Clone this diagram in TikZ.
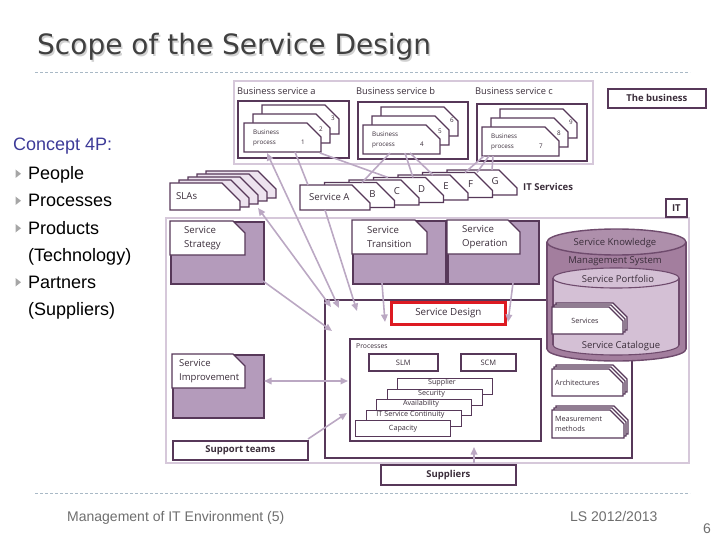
\documentclass[tikz,border=0pt]{standalone}
\usepackage{fontspec}
\setmainfont{Liberation Sans}
\newfontfamily\dfont{Open Sans}
\newfontfamily\tfont{DejaVu Sans}
\usetikzlibrary{arrows.meta}
\definecolor{dp}{HTML}{573859}
\definecolor{mp}{HTML}{B49BBB}
\definecolor{lp}{HTML}{D6C8DA}
\definecolor{ac}{HTML}{BBA8C3}
\definecolor{cyb}{HTML}{A37E9E}
\definecolor{cyt}{HTML}{AE8FAB}
\definecolor{cyi}{HTML}{D4C0D5}
\definecolor{cyl}{HTML}{6F4B6D}
\definecolor{tx}{HTML}{3A2D3A}
\definecolor{sdred}{HTML}{DD1A22}
\definecolor{dsh}{HTML}{A9B9C6}
\definecolor{blu}{HTML}{3D3A98}
\definecolor{ftr}{HTML}{6E6E6E}
\definecolor{titc}{HTML}{404040}
\definecolor{slab}{HTML}{EDE3EF}
\newcommand\fs[2]{\fontsize{#1}{#2}\selectfont}
% card with cut top-right corner: [opts]{name}{x}{y}{w}{h}{cut}
\newcommand\crd[7][]{%
  \draw[crdst,#1] (#3,#4) -- ++({#5-#7},0) -- ++(#7,#7) -- ++(0,{#6-#7}) -- ++({-#5},0) -- cycle;
  \path (#3,#4) coordinate (#2);}
% box node: {name}{style}{x1}{y1}{x2}{y2}{text}
\newcommand\bx[7]{\node[#2, anchor=north west, inner sep=0, minimum width={#5-#3}, minimum height={#6-#4}] (#1) at (#3,#4) {#7};}
\begin{document}
\begin{tikzpicture}[x=1pt,y=-1pt,
  boxst/.style={draw=dp, line width=1.7pt},
  crdst/.style={draw=dp, line width=1.3pt, fill=white, line join=miter},
  lbox/.style={draw=lp, line width=1.8pt},
  arr/.style={draw=ac, line width=1.6pt, -{Triangle[length=7.5pt,width=6.5pt]}},
  darr/.style={draw=ac, line width=1.6pt, {Triangle[length=7.5pt,width=6.5pt]}-{Triangle[length=7.5pt,width=6.5pt]}},
  ln/.style={draw=ac, line width=1.6pt},
  lbl/.style={font=\dfont\fs{9.6}{13.3}, text=tx, inner sep=0},
  bld/.style={font=\dfont\bfseries\fs{9.5}{11}, text=tx},
  sml/.style={font=\dfont\fs{7.2}{10}, text=tx, inner sep=0},
  tiny/.style={font=\dfont\fs{6.3}{10}, text=tx, inner sep=0},
  dline/.style={draw=dsh, line width=0.8pt, dash pattern=on 3pt off 2pt},
  bul/.style={fill=black!35, draw=none},
  lt/.style={font=\fs{18}{20}, text=black, inner sep=0, anchor=base west},
  ft/.style={font=\fs{14}{16}, text=ftr, inner sep=0, anchor=base west}]
\useasboundingbox (0,0) rectangle (720,540);

% ---------- title ----------
\node[anchor=base west, inner sep=0, font=\tfont\fs{28}{30}, text=black!18] (titsh) at (38.5,56.5) {Scope of the Service Design};
\node[anchor=base west, inner sep=0, font=\tfont\fs{28}{30}, text=titc] (tit) at (37,55) {Scope of the Service Design};
\coordinate (d1a) at (35,72); \coordinate (d1b) at (690,72);
\draw[dline] (d1a) -- (d1b);
\coordinate (d2a) at (35,493); \coordinate (d2b) at (690,493);
\draw[dline] (d2a) -- (d2b);

% ---------- left text ----------
\node[lt, text=blu] (c4p) at (13,151) {Concept 4P:};
\node[lt] (i1) at (28,179.5) {People};
\node[lt] (i2) at (28,206.5) {Processes};
\node[lt] (i3) at (28,234) {Products};
\node[lt] (i3b) at (28,261) {(Technology)};
\node[lt] (i4) at (28,288) {Partners};
\node[lt] (i4b) at (28,315) {(Suppliers)};
\foreach \b in {179.5,206.5,234,288} {\fill[bul] (15.5,\b-10) -- (15.5,\b-1.5) -- (21,\b-5.75) -- cycle;}

% ---------- footer ----------
\node[ft] (f1) at (67,521) {Management of IT Environment (5)};
\node[ft] (f2) at (570,521) {LS 2012/2013};
\node[ft] (f3) at (703,533) {6};

% ---------- the business ----------
\bx{busr}{lbox}{233}{80}{592}{163}{}
\bx{bsa}{boxst}{237}{100}{348}{157}{}
\bx{bsb}{boxst}{357}{101}{467}{158}{}
\bx{bsc}{boxst}{476}{103}{586}{160}{}
\node[lbl, font=\dfont\fs{9.3}{11}, anchor=base west] (bsat) at (237,95) {Business service a};
\node[lbl, font=\dfont\fs{9.3}{11}, anchor=base west] (bsbt) at (356,95) {Business service b};
\node[lbl, font=\dfont\fs{9.3}{11}, anchor=base west] (bsct) at (475,95) {Business service c};
\bx{thebus}{boxst,bld}{607}{88}{705}{107}{The business}

\foreach \p/\x/\y/\na/\nb/\nc in {a/244/123/1/2/3, b/363/125/4/5/6, c/482/127/7/8/9} {
  \crd{bp\p3}{\x+18}{\y-18}{77}{29}{14}
  \crd{bp\p2}{\x+9}{\y-9}{77}{29}{14}
  \crd{bp\p1}{\x}{\y}{77}{29}{14}
  \node[tiny, align=left, anchor=west] (bpt\p) at (\x+9,\y+15) {Business\\process};
  \node[tiny] (bpn\p1) at (\x+59,\y+19) {\na};
  \node[tiny] (bpn\p2) at (\x+77,\y+6) {\nb};
  \node[tiny] (bpn\p3) at (\x+89,\y-5) {\nc};
}

% ---------- IT region ----------
\bx{itr}{lbox}{165}{217}{688}{462}{}
\bx{itb}{boxst,bld}{665}{198}{686}{216}{IT}

% SLAs
\foreach \k in {4,3,2,1} {\crd[fill=slab]{sla\k}{170+9*\k}{183-3*\k}{70}{27}{18}}
\crd{sla0}{170}{183}{70}{27}{18}
\node[lbl, anchor=west] (slat) at (176,196.5) {SLAs};

% IT services
\foreach \i/\l in {6/G,5/F,4/E,3/D,2/C,1/B} {
  \crd{its\i}{300+24.5*\i}{185-2.5*\i}{70}{25}{18}
  \node[lbl] (itl\i) at (300+24.5*\i+48,185-2.5*\i+11.5) {\l};
}
\crd{its0}{300}{185}{70}{25}{18}
\node[lbl, anchor=west] (itsat) at (309,197.5) {Service A};
\node[bld, anchor=west, inner sep=0] (itsl) at (523,187) {IT Services};

% lifecycle boxes
\bx{sstr}{boxst,fill=mp}{170}{221}{263}{283}{}
\crd{sstrc}{170}{221}{75}{34}{12}
\node[lbl, align=left, anchor=west] (sstrt) at (184,238) {Service\\Strategy};
\bx{strn}{boxst,fill=mp}{352}{220}{445}{283}{}
\crd{strnc}{352}{220}{75}{34}{12}
\node[lbl, align=left, anchor=west] (strnt) at (367,237) {Service\\Transition};
\bx{sop}{boxst,fill=mp}{447}{220}{538}{283}{}
\crd{sopc}{447}{220}{73}{34}{12}
\node[lbl, align=left, anchor=west] (sopt) at (462,237) {Service\\Operation};
\bx{simp}{boxst,fill=mp}{172}{354}{263}{417}{}
\crd{simpc}{172}{354}{73}{34}{12}
\node[lbl, align=left, anchor=west, font=\dfont\fs{9.5}{13.5}] (simpt) at (179,371) {Service\\Improvement};

% service design
\bx{sd}{boxst}{324}{299}{631}{457}{}
\bx{sdr}{draw=sdred, line width=2.7pt, lbl, font=\dfont\fs{9.8}{11}}{390}{301}{504}{323}{Service Design}
\bx{proc}{boxst}{349}{338}{540}{440}{}
\node[sml, font=\dfont\fs{6.8}{8}, anchor=west] (proct) at (356,346) {Processes};
\bx{slm}{boxst, sml, font=\dfont\fs{7.5}{9}}{368}{353}{437}{370}{SLM}
\bx{scm}{boxst, sml, font=\dfont\fs{7.5}{9}}{460}{353}{515}{370}{SCM}
\foreach \n/\x/\y/\t in {p1/397/378/Supplier, p2/386.5/388.5/Security, p3/376/399/Availability, p4/365.5/409.5/IT Service Continuity} {
  \bx{\n}{draw=dp, line width=1.3pt, fill=white}{\x}{\y}{\x+95}{\y+16}{}
  \node[sml] (\n t) at (\x+45,\y+5) {\t};
}
\bx{p5}{draw=dp, line width=1.3pt, fill=white, sml}{355}{420}{450}{436}{Capacity}

\bx{supt}{boxst,bld}{172}{440}{307}{459}{Support teams}
\bx{supp}{boxst,bld}{380}{464}{515}{484}{Suppliers}

% cylinder (SKMS)
\fill[cyb, draw=cyl, line width=1.4pt] (616.5,349) ellipse [x radius=69.5, y radius=12];
\fill[cyb] (547,242) rectangle (686,349);
\draw[cyl, line width=1.4pt] (547,242) -- (547,349) (686,242) -- (686,349);
\draw[fill=cyt, draw=cyl, line width=1.4pt] (616.5,242) ellipse [x radius=69.5, y radius=13];
\fill[cyi, draw=cyl, line width=1.1pt] (616,345) ellipse [x radius=63, y radius=10];
\fill[cyi] (553,278) rectangle (679,345);
\draw[cyl, line width=1.1pt] (553,278) -- (553,345) (679,278) -- (679,345);
\draw[fill=cyi, draw=cyl, line width=1.1pt] (616,278) ellipse [x radius=63, y radius=10];
\node[lbl, font=\dfont\fs{9.5}{11}] (skms1) at (615,243) {Service Knowledge};
\node[lbl, font=\dfont\fs{9.5}{11}] (skms2) at (615,261) {Management System};
\node[lbl, font=\dfont\fs{9.5}{11}] (sport) at (618,279) {Service Portfolio};
\node[lbl, font=\dfont\fs{9.5}{11}] (scat) at (621,346) {Service Catalogue};

\foreach \k in {2,1} {\crd{svc\k}{552+2*\k}{307-2*\k}{71}{27}{14}}
\crd{svc0}{552}{307}{71}{27}{14}
\node[sml] (svct) at (585,321) {Services};
\foreach \k in {2,1} {\crd{arc\k}{552+2*\k}{369-2*\k}{71}{27}{14}}
\crd{arc0}{552}{369}{71}{27}{14}
\node[sml, anchor=west] (arct) at (555,383) {Architectures};
\foreach \k in {2,1} {\crd{mea\k}{552+2*\k}{410-2*\k}{72}{28}{14}}
\crd{mea0}{552}{410}{72}{28}{14}
\node[sml, align=left, anchor=west] (meat) at (555,424) {Measurement\\methods};

% ---------- connectors ----------
\coordinate (slaA) at (258,208);  \coordinate (sdA) at (331,307);
\coordinate (bp1A) at (267,153);  \coordinate (sdB) at (339,308);
\coordinate (bp1B) at (295,152);  \coordinate (itsAt) at (308,185);
\coordinate (itsAb) at (325,210); \coordinate (sdC) at (357,311);
\coordinate (strb) at (263,281);  \coordinate (sdD) at (332,331);
\coordinate (trnb) at (382,283);  \coordinate (sdE) at (385,322);
\coordinate (opb) at (513,283);   \coordinate (sdF) at (508,322);
\coordinate (impr) at (264,381);  \coordinate (procl) at (348,381);
\coordinate (suptr) at (308,439); \coordinate (procm) at (347,413);
\coordinate (suppt) at (474,463); \coordinate (sdG) at (474,447);
\draw[darr] (slaA) -- (sdA);
\draw[darr] (bp1A) -- (sdB);
\draw[ln] (bp1B) -- (itsAt);
\draw[arr] (itsAb) -- (sdC);
\draw[arr] (strb) -- (sdD);
\draw[arr] (trnb) -- (sdE);
\draw[arr] (opb) -- (sdF);
\draw[darr] (impr) -- (procl);
\draw[arr] (suptr) -- (procm);
\draw[arr] (suppt) -- (sdG);
% business processes to IT services
\coordinate (bpa1) at (320,153); \coordinate (itD1) at (388,177.5);
\coordinate (bpb1) at (390,153); \coordinate (itB1) at (362,182.5);
\coordinate (bpb2) at (405,153); \coordinate (itD2) at (413,177.5);
\coordinate (bpb3) at (410,153); \coordinate (itE1) at (433,175);
\coordinate (bpc1) at (484,156); \coordinate (itF1) at (465,172.5);
\coordinate (bpc2) at (489,156); \coordinate (itF2) at (477,172.5);
\coordinate (bpc3) at (493,156); \coordinate (itG1) at (492,170);
\draw[ln] (bpa1) -- (itD1);
\draw[ln] (bpb1) -- (itB1);
\draw[ln] (bpb2) -- (itD2);
\draw[ln] (bpb3) -- (itE1);
\draw[ln] (bpc1) -- (itF1);
\draw[ln] (bpc2) -- (itF2);
\draw[ln] (bpc3) -- (itG1);
\end{tikzpicture}
\end{document}
